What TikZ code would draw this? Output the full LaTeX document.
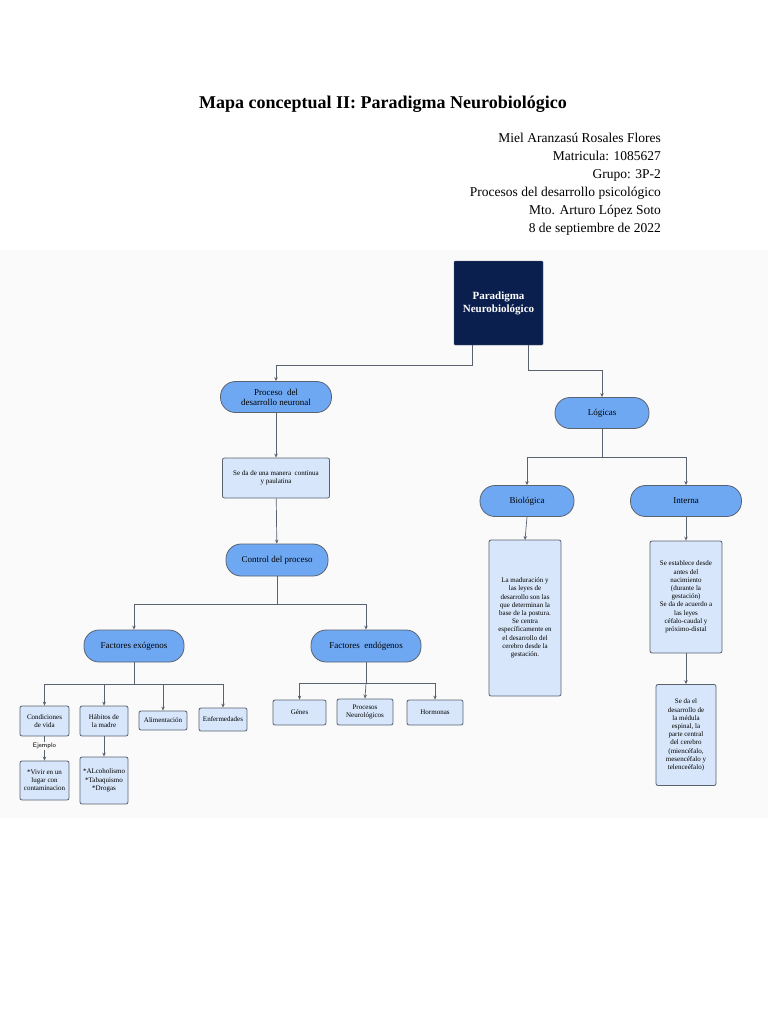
\documentclass[tikz,border=0pt]{standalone}
\usepackage{fontspec}
\setmainfont{Liberation Serif}
\usetikzlibrary{arrows.meta}
\definecolor{navy}{HTML}{0B1F4E}
\definecolor{pill}{HTML}{6FA8F2}
\definecolor{lb}{HTML}{D7E6FA}
\definecolor{bd}{HTML}{5A6270}
\begin{document}
\begin{tikzpicture}[x=1pt,y=-1pt,
  pl/.style={draw=bd,line width=0.8pt,fill=pill,rounded corners=15pt,align=center,font=\fontsize{9}{10}\selectfont,inner sep=2pt},
  bx/.style={draw=bd,line width=0.8pt,fill=lb,rounded corners=2pt,align=center,font=\fontsize{7}{8.2}\selectfont,inner sep=1pt},
  ar/.style={draw=bd,line width=0.7pt,-{Stealth[length=4pt,width=3.5pt]}},
  ln/.style={draw=bd,line width=0.7pt}]
\useasboundingbox (0,0) rectangle (768,1024);
\fill[white] (0,0) rectangle (768,1024);
\fill[gray!4] (0,250) rectangle (768,818);
\node[font=\bfseries\fontsize{18}{20}\selectfont] (title) at (383,104) {Mapa conceptual II: Paradigma Neurobiológico};
\node[anchor=north east,align=right,font=\fontsize{13.5}{18}\selectfont,inner sep=0pt] (auth) at (661,133) {Miel Aranzasú Rosales Flores\\Matricula: 1085627\\Grupo: 3P-2\\Procesos del desarrollo psicológico\\Mto. Arturo López Soto\\8 de septiembre de 2022};
\node[draw=bd,fill=navy,text=white,font=\bfseries\fontsize{11}{13}\selectfont,align=center,minimum width=89pt,minimum height=84pt,rounded corners=1pt] (root) at (498.5,303) {Paradigma\\Neurobiológico};
\node[pl,minimum width=111pt,minimum height=31pt] (proc) at (276,397) {Proceso\ \ del\\desarrollo neuronal};
\node[pl,minimum width=94pt,minimum height=31pt] (log) at (602,413) {Lógicas};
\node[bx,minimum width=107pt,minimum height=40pt] (sed) at (276,478) {Se da de una manera\ \ continua\\y paulatina};
\node[pl,minimum width=102pt,minimum height=32pt] (ctrl) at (277,560) {Control del proceso};
\node[pl,minimum width=100pt,minimum height=32pt] (exo) at (134,646) {Factores exógenos};
\node[pl,minimum width=110pt,minimum height=32pt] (endo) at (366,646) {Factores\ \ endógenos};
\node[pl,minimum width=94pt,minimum height=31pt] (bio) at (527,501) {Biológica};
\node[pl,minimum width=111pt,minimum height=31pt] (int) at (686,501) {Interna};
\node[bx,minimum width=72pt,minimum height=156pt] (biob) at (525,618) {La maduración y\\las leyes de\\desarrollo son las\\que determinan la\\base de la postura.\\Se centra\\específicamente en\\el desarrollo del\\cerebro desde la\\gestación.};
\node[bx,minimum width=72pt,minimum height=112pt] (intb) at (686,597) {Se establece desde\\antes del\\nacimiento\\(durante la\\gestación)\\Se da de acuerdo a\\las leyes\\céfalo-caudal y\\próximo-distal};
\node[bx,minimum width=60pt,minimum height=101pt] (intc) at (686,735) {Se da el\\desarrollo de\\la médula\\espinal, la\\parte central\\del cerebro\\(miencéfalo,\\mesencéfalo y\\telenceéfalo)};
\node[bx,minimum width=49pt,minimum height=30pt] (cond) at (44.5,721) {Condiciones\\de vida};
\node[bx,minimum width=48pt,minimum height=30pt] (hab) at (104,721) {Hábitos de\\la madre};
\node[bx,minimum width=48pt,minimum height=19pt] (ali) at (163,720.5) {Alimentación};
\node[bx,minimum width=48pt,minimum height=23pt] (enf) at (223,719.5) {Enfermedades};
\node[bx,minimum width=49pt,minimum height=39pt] (viv) at (44.5,780.5) {*Vivir en un\\lugar con\\contaminacion};
\node[bx,minimum width=48pt,minimum height=47pt] (alc) at (104,780.5) {*ALcoholismo\\*Tabaquismo\\*Drogas};
\node[bx,minimum width=53pt,minimum height=25pt] (gen) at (299.5,712.5) {Génes};
\node[bx,minimum width=56pt,minimum height=26pt] (pn) at (365,712) {Procesos\\Neurológicos};
\node[bx,minimum width=56pt,minimum height=25pt] (hor) at (435,712.5) {Hormonas};
% connectors
\draw[ar] (472,345) |- (276,365) -- (proc.north);
\draw[ar] (528,345) |- (602,370) -- (log.north);
\draw[ar] (proc) -- (sed);
\draw[ar] (sed) -- (ctrl);
\draw[ln] (ctrl.south) -- (277,604);
\draw[ar] (277,604) -| (exo.north);
\draw[ar] (277,604) -| (endo.north);
\draw[ln] (log.south) -- (602,457);
\draw[ar] (602,457) -| (bio.north);
\draw[ar] (602,457) -| (int.north);
\draw[ar] (bio.south) -- (525,540);
\draw[ar] (int) -- (intb);
\draw[ar] (intb) -- (intc);
\draw[ln] (exo.south) -- (134,684);
\draw[ar] (134,684) -| (cond.north);
\draw[ar] (134,684) -| (hab.north);
\draw[ar] (134,684) -| (ali.north);
\draw[ar] (134,684) -| (enf.north);
\draw[ar] (cond) -- node[fill=gray!4,font=\sffamily\fontsize{6.5}{7}\selectfont,inner sep=1pt,pos=0.4] (ej) {Ejemplo} (viv);
\draw[ar] (hab) -- (alc);
\draw[ln] (endo.south) -- (366,683);
\draw[ar] (366,683) -| (gen.north);
\draw[ar] (366,683) -- (pn.north);
\draw[ar] (366,683) -| (hor.north);
\end{tikzpicture}
\end{document}
